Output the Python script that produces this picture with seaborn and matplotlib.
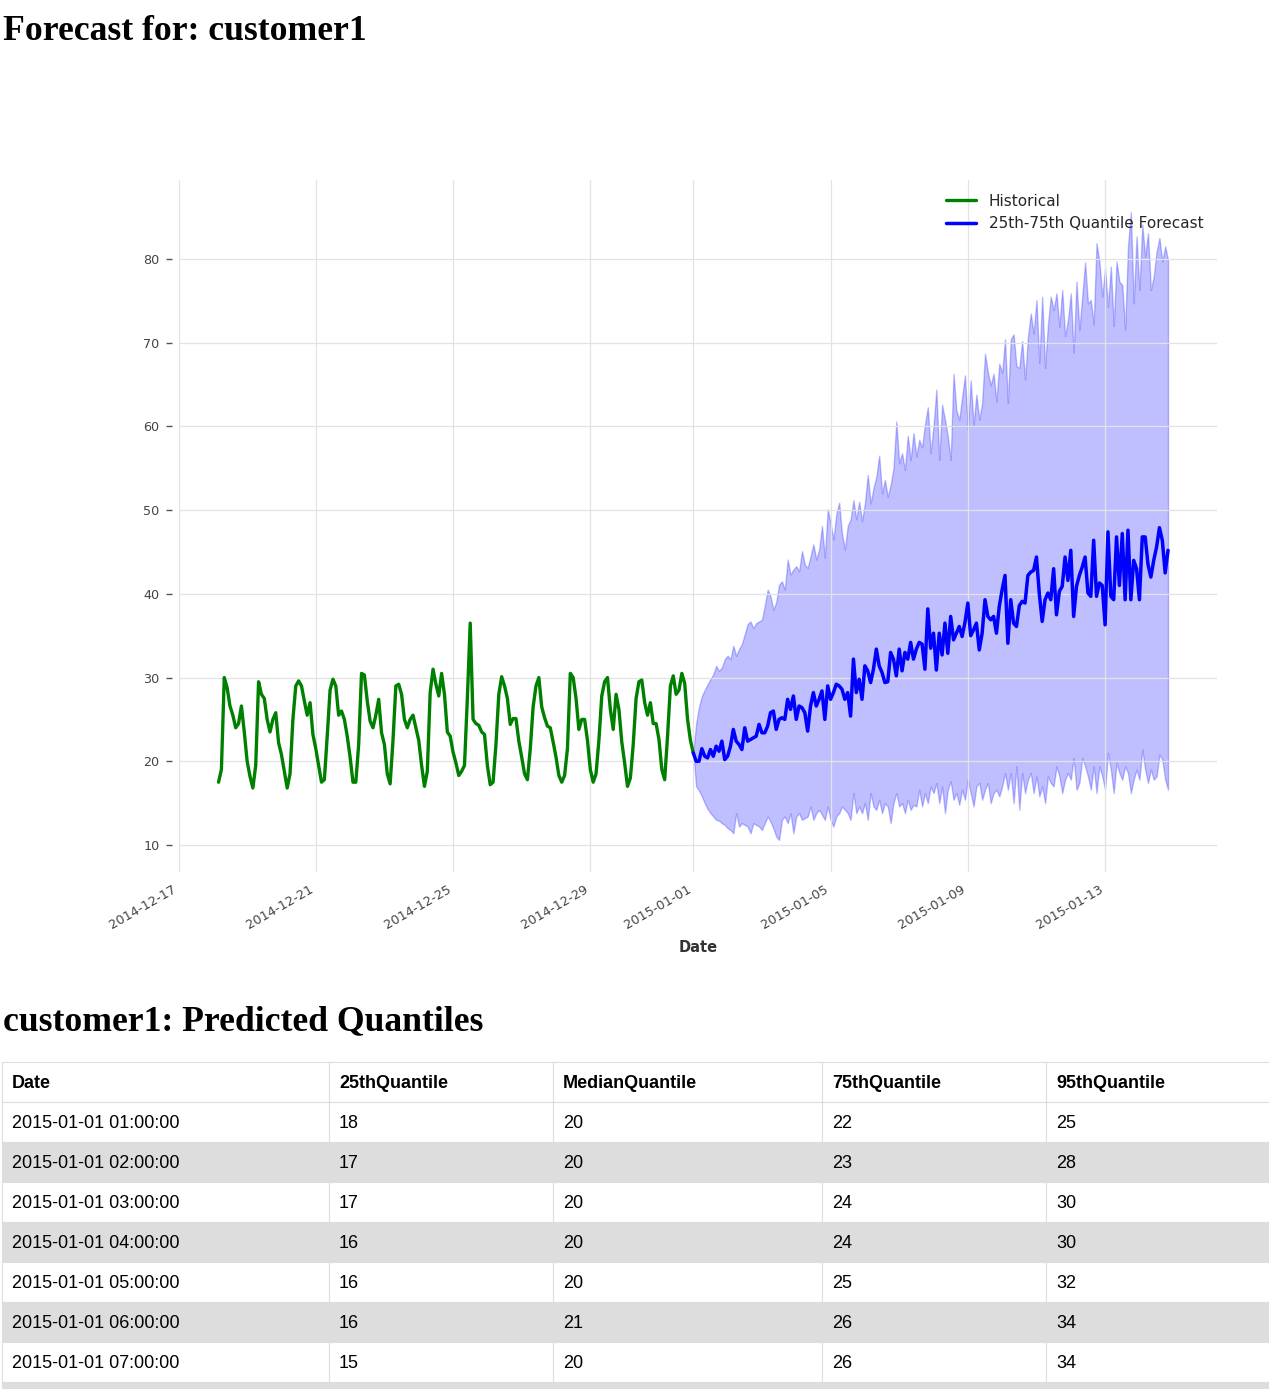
import numpy as np
import pandas as pd
import matplotlib
matplotlib.use("Agg")
import matplotlib.pyplot as plt
from matplotlib.patches import Rectangle
import seaborn as sns

# ---------------- data ----------------
hist_start = "2014-12-18 04:00"   # 2-hourly history
hist_values = [
    17.5, 19.0, 30.0, 28.8, 26.6, 25.5, 24.0, 24.5, 26.6, 23.5, 20.0, 18.2,
    16.8, 19.5, 29.5, 28.0, 27.5, 25.0, 23.5, 25.0, 25.8, 22.2, 20.8, 18.8,
    16.8, 18.5, 25.0, 29.0, 29.6, 29.0, 27.2, 25.5, 27.0, 23.2, 21.5, 19.5,
    17.5, 17.8, 23.0, 28.5, 29.8, 29.0, 25.5, 26.0, 25.0, 23.0, 20.5, 17.5,
    17.5, 22.0, 30.5, 30.3, 27.2, 24.8, 24.0, 25.5, 27.4, 23.4, 22.0, 18.5,
    17.3, 22.5, 29.0, 29.2, 28.0, 25.0, 24.0, 25.0, 25.5, 24.0, 22.5, 19.5,
    17.0, 18.8, 28.2, 31.0, 29.2, 27.8, 30.5, 28.0, 23.5, 23.0, 21.1, 19.8,
    18.3, 18.8, 19.5, 27.5, 36.5, 25.0, 24.5, 24.3, 23.5, 23.2, 19.5, 17.2,
    17.5, 22.0, 28.0, 30.1, 29.0, 27.5, 24.4, 25.1, 25.1, 22.4, 20.5, 18.5,
    17.8, 21.5, 26.5, 29.0, 30.0, 26.5, 25.2, 24.2, 24.0, 22.3, 20.5, 18.3,
    17.5, 18.3, 21.5, 30.5, 30.0, 27.5, 23.8, 25.0, 25.0, 22.5, 19.0, 17.5,
    18.5, 22.5, 27.8, 29.5, 30.0, 26.2, 23.8, 28.0, 26.2, 22.3, 19.8, 17.0,
    18.0, 22.0, 27.5, 29.5, 29.7, 27.0, 25.5, 27.0, 24.5, 24.5, 22.6, 19.0,
    17.8, 23.0, 29.0, 30.2, 28.0, 28.5, 30.5, 29.3, 25.0, 22.5, 21.0,
]

fc_start = "2015-01-01 00:00"     # 2-hourly forecast
fc_median = [
    21.0, 20.0, 20.0, 21.5, 20.6, 20.4, 21.4, 20.6, 21.8, 21.2, 22.4, 20.2,
    20.6, 21.8, 23.8, 22.4, 22.0, 21.4, 24.0, 22.4, 22.6, 22.8, 23.0, 24.4,
    23.4, 23.4, 24.2, 25.8, 26.0, 23.8, 25.0, 25.2, 25.0, 27.4, 26.2, 27.8,
    25.0, 26.6, 26.4, 25.8, 23.6, 26.6, 28.2, 26.6, 27.4, 28.4, 25.0, 29.0,
    27.4, 28.2, 29.2, 29.0, 28.6, 27.4, 28.2, 25.4, 32.2, 28.2, 29.8, 27.4,
    31.4, 30.8, 29.4, 31.0, 33.4, 31.4, 30.6, 29.4, 29.5, 33.0, 32.2, 30.2,
    33.4, 30.8, 33.0, 32.2, 34.2, 32.2, 33.4, 34.2, 34.0, 31.0, 38.2, 33.5,
    35.3, 30.9, 35.3, 32.7, 36.5, 32.9, 37.3, 34.5, 35.3, 36.1, 34.9, 36.6,
    38.9, 35.0, 35.7, 36.5, 33.3, 35.3, 39.3, 37.3, 36.9, 37.3, 35.3, 38.5,
    40.5, 42.2, 34.1, 39.3, 36.5, 36.1, 38.6, 39.1, 38.9, 42.2, 42.6, 42.8,
    44.4, 40.0, 36.7, 39.3, 40.1, 39.3, 43.0, 37.5, 40.3, 40.9, 44.4, 41.6,
    45.2, 37.3, 40.9, 42.2, 43.2, 44.4, 40.1, 39.7, 46.4, 39.7, 41.3, 41.0,
    36.3, 47.4, 39.7, 39.3, 46.8, 41.0, 47.2, 39.3, 47.6, 39.3, 44.0, 43.0,
    39.3, 46.8, 46.8, 43.5, 42.0, 44.0, 45.6, 47.9, 46.4, 42.5, 45.2,
]
fc_q75 = [
    21.0, 24.5, 26.5, 27.8, 28.5, 29.2, 29.8, 30.4, 31.4, 30.8, 31.2, 32.2,
    32.6, 32.2, 33.8, 32.6, 33.4, 34.0, 35.2, 36.4, 36.7, 35.9, 36.5, 36.7,
    36.9, 38.6, 40.5, 39.7, 38.1, 39.0, 41.1, 41.5, 40.5, 44.1, 42.3, 42.9,
    43.3, 42.7, 45.1, 43.5, 43.1, 44.5, 45.9, 44.1, 45.3, 48.1, 44.3, 50.1,
    48.5, 46.5, 49.5, 50.9, 47.2, 45.3, 48.1, 48.9, 51.2, 48.9, 51.0, 48.7,
    50.8, 54.2, 50.8, 52.6, 54.0, 56.5, 52.0, 53.6, 51.6, 53.0, 55.0, 60.6,
    55.6, 56.8, 54.8, 58.9, 56.0, 59.2, 56.4, 58.4, 57.5, 60.2, 62.3, 56.8,
    60.0, 64.4, 56.0, 62.6, 60.8, 58.8, 56.0, 66.3, 61.9, 60.8, 63.5, 66.1,
    59.6, 65.5, 60.2, 63.8, 60.8, 62.8, 68.7, 66.5, 64.9, 66.3, 63.0, 67.5,
    66.4, 70.4, 62.8, 70.4, 71.0, 67.2, 67.0, 70.2, 65.6, 70.6, 73.5, 71.1,
    75.1, 67.6, 75.5, 67.0, 72.1, 75.5, 73.9, 75.9, 71.9, 76.3, 70.8, 72.7,
    75.9, 68.8, 77.3, 71.5, 75.5, 79.6, 74.7, 75.1, 72.2, 81.9, 79.7, 75.5,
    78.9, 74.3, 79.1, 72.0, 79.7, 77.3, 76.9, 71.6, 81.5, 85.6, 74.7, 82.7,
    76.3, 84.1, 80.3, 83.1, 76.3, 77.9, 80.9, 82.5, 79.7, 81.5, 79.9,
]
fc_q25 = [
    21.0, 17.0, 16.5, 15.8, 15.0, 14.3, 13.8, 13.4, 13.0, 12.9, 12.6, 12.4,
    12.0, 11.8, 11.4, 13.8, 12.2, 12.6, 12.4, 12.2, 11.4, 12.6, 12.4, 12.2,
    11.8, 12.6, 13.4, 12.8, 12.0, 11.0, 10.6, 13.0, 13.4, 12.6, 13.8, 11.4,
    13.4, 13.8, 13.0, 13.2, 13.4, 14.6, 13.0, 13.8, 14.2, 13.6, 13.0, 14.6,
    13.0, 12.2, 13.4, 13.8, 14.6, 14.2, 13.8, 13.0, 16.2, 13.8, 14.6, 13.8,
    15.0, 13.0, 16.2, 14.6, 14.2, 15.4, 13.8, 15.0, 14.6, 12.6, 15.0, 16.2,
    14.6, 15.0, 13.8, 15.4, 14.2, 14.8, 14.6, 16.6, 14.6, 16.2, 15.0, 17.0,
    16.2, 17.4, 15.0, 17.0, 13.8, 16.6, 17.6, 15.4, 16.2, 14.8, 16.6, 15.4,
    17.8, 16.2, 14.6, 17.0, 17.4, 15.4, 16.6, 17.4, 15.0, 16.2, 16.6, 15.8,
    17.0, 18.6, 16.6, 18.6, 15.0, 19.4, 14.2, 18.6, 16.2, 17.8, 18.6, 16.2,
    18.2, 15.8, 17.0, 15.0, 18.2, 17.4, 17.0, 19.4, 18.2, 16.2, 17.8, 18.6,
    17.8, 20.4, 16.6, 17.4, 20.4, 19.4, 18.2, 16.6, 19.4, 16.2, 19.4, 18.2,
    16.6, 21.0, 19.0, 16.2, 19.8, 18.6, 17.8, 19.4, 18.6, 16.2, 17.8, 19.0,
    17.8, 21.4, 19.0, 17.4, 19.0, 17.8, 18.2, 20.8, 20.2, 17.8, 16.6,
]

x_tick_labels = ["2014-12-17", "2014-12-21", "2014-12-25", "2014-12-29",
                 "2015-01-01", "2015-01-05", "2015-01-09", "2015-01-13"]
y_tick_values = [10, 20, 30, 40, 50, 60, 70, 80]

table_columns = ["Date", "25thQuantile", "MedianQuantile", "75thQuantile", "95thQuantile"]
table_dates = ["2015-01-01 01:00:00", "2015-01-01 02:00:00", "2015-01-01 03:00:00",
               "2015-01-01 04:00:00", "2015-01-01 05:00:00", "2015-01-01 06:00:00",
               "2015-01-01 07:00:00"]
table_q25 = [18, 17, 17, 16, 16, 16, 15]
table_median = [20, 20, 20, 20, 20, 21, 20]
table_q75 = [22, 23, 24, 24, 25, 26, 26]
table_q95 = [25, 28, 30, 30, 32, 34, 34]

title_main = "Forecast for: customer1"
title_table = "customer1: Predicted Quantiles"

# ---------------- figure ----------------
sns.set_theme(style="whitegrid")
plt.rcParams["font.family"] = ["DejaVu Sans"]

W, H = 1269, 1389
fig = plt.figure(figsize=(W / 100, H / 100), dpi=100)
fig.patch.set_facecolor("white")

ax_l, ax_r, ax_t, ax_b = 178.5, 1217, 180, 872
ax = fig.add_axes([ax_l / W, 1 - ax_b / H, (ax_r - ax_l) / W, (ax_b - ax_t) / H])
ax.set_facecolor("white")

hist = pd.DataFrame({
    "Date": pd.date_range(hist_start, periods=len(hist_values), freq="2h"),
    "Value": hist_values,
})
fc = pd.DataFrame({
    "Date": pd.date_range(fc_start, periods=len(fc_median), freq="2h"),
    "Median": fc_median,
    "Q25": fc_q25,
    "Q75": fc_q75,
})

ax.fill_between(fc["Date"].values, fc["Q25"].values, fc["Q75"].values,
                color="blue", alpha=0.25, linewidth=1)
sns.lineplot(data=hist, x="Date", y="Value", color="green", linewidth=2.4,
             label="Historical", ax=ax)
sns.lineplot(data=fc, x="Date", y="Median", color="blue", linewidth=2.5,
             label="25th-75th Quantile Forecast", ax=ax)

ax.set_xlim(pd.Timestamp("2014-12-17 00:00"), pd.Timestamp("2015-01-16 06:15"))
ax.set_ylim(6.77, 89.44)
ax.set_xticks(pd.to_datetime(x_tick_labels))
ax.set_xticklabels(x_tick_labels, rotation=30, ha="right")
ax.set_yticks(y_tick_values)
ax.set_yticklabels([str(v) for v in y_tick_values])

for s in ax.spines.values():
    s.set_visible(False)
ax.spines["left"].set_position(("outward", 5))
ax.tick_params(axis="y", left=True, length=4, width=1, color="#555555",
               labelsize=9.2, labelcolor="#444444", pad=4.5)
ax.tick_params(axis="x", bottom=False, length=0, labelsize=9.3,
               labelcolor="#444444", pad=8)
ax.grid(True, color="#e3e3e3", linewidth=0.9)
ax.set_axisbelow("line")
ax.set_xlabel("Date", fontsize=10.5, fontweight="bold", color="#333333", labelpad=6)
ax.set_ylabel("")
ax.legend(loc="upper right", frameon=False, fontsize=11)

# ---------------- titles & table ----------------
tax = fig.add_axes([0, 0, 1, 1], zorder=-1)
tax.set_xlim(0, W)
tax.set_ylim(H, 0)
tax.axis("off")

serif = ["Liberation Serif", "DejaVu Serif"]
tax.text(3, 40, title_main, fontsize=25.7, fontweight="bold", family=serif,
         va="baseline", ha="left", color="black")
tax.text(3, 1030, title_table, fontsize=25.7, fontweight="bold", family=serif,
         va="baseline", ha="left", color="black")

col_edges = [2, 329, 553, 822, 1046, 1275]
row_top0, row_h = 1062, 40
rows = [table_columns] + [
    [d, str(a), str(b), str(c), str(e)]
    for d, a, b, c, e in zip(table_dates, table_q25, table_median, table_q75, table_q95)
]
rows.append([""] * len(table_columns))   # next (cut-off) row

sans = ["Liberation Sans", "DejaVu Sans"]
for ri, row in enumerate(rows):
    top = row_top0 + ri * row_h
    fill = "#dddddd" if (ri > 0 and ri % 2 == 0) else "white"
    for ci, txt in enumerate(row):
        x0, x1 = col_edges[ci], col_edges[ci + 1]
        tax.add_patch(Rectangle((x0, top), x1 - x0, row_h, facecolor=fill,
                                edgecolor="#dddddd", linewidth=0.8))
        if txt:
            tax.text(x0 + 10, top + row_h / 2 + 1, txt, fontsize=13, family=sans,
                     fontweight="bold" if ri == 0 else "normal",
                     va="center", ha="left", color="black")

fig.savefig("out.png", dpi=100, facecolor="white")
